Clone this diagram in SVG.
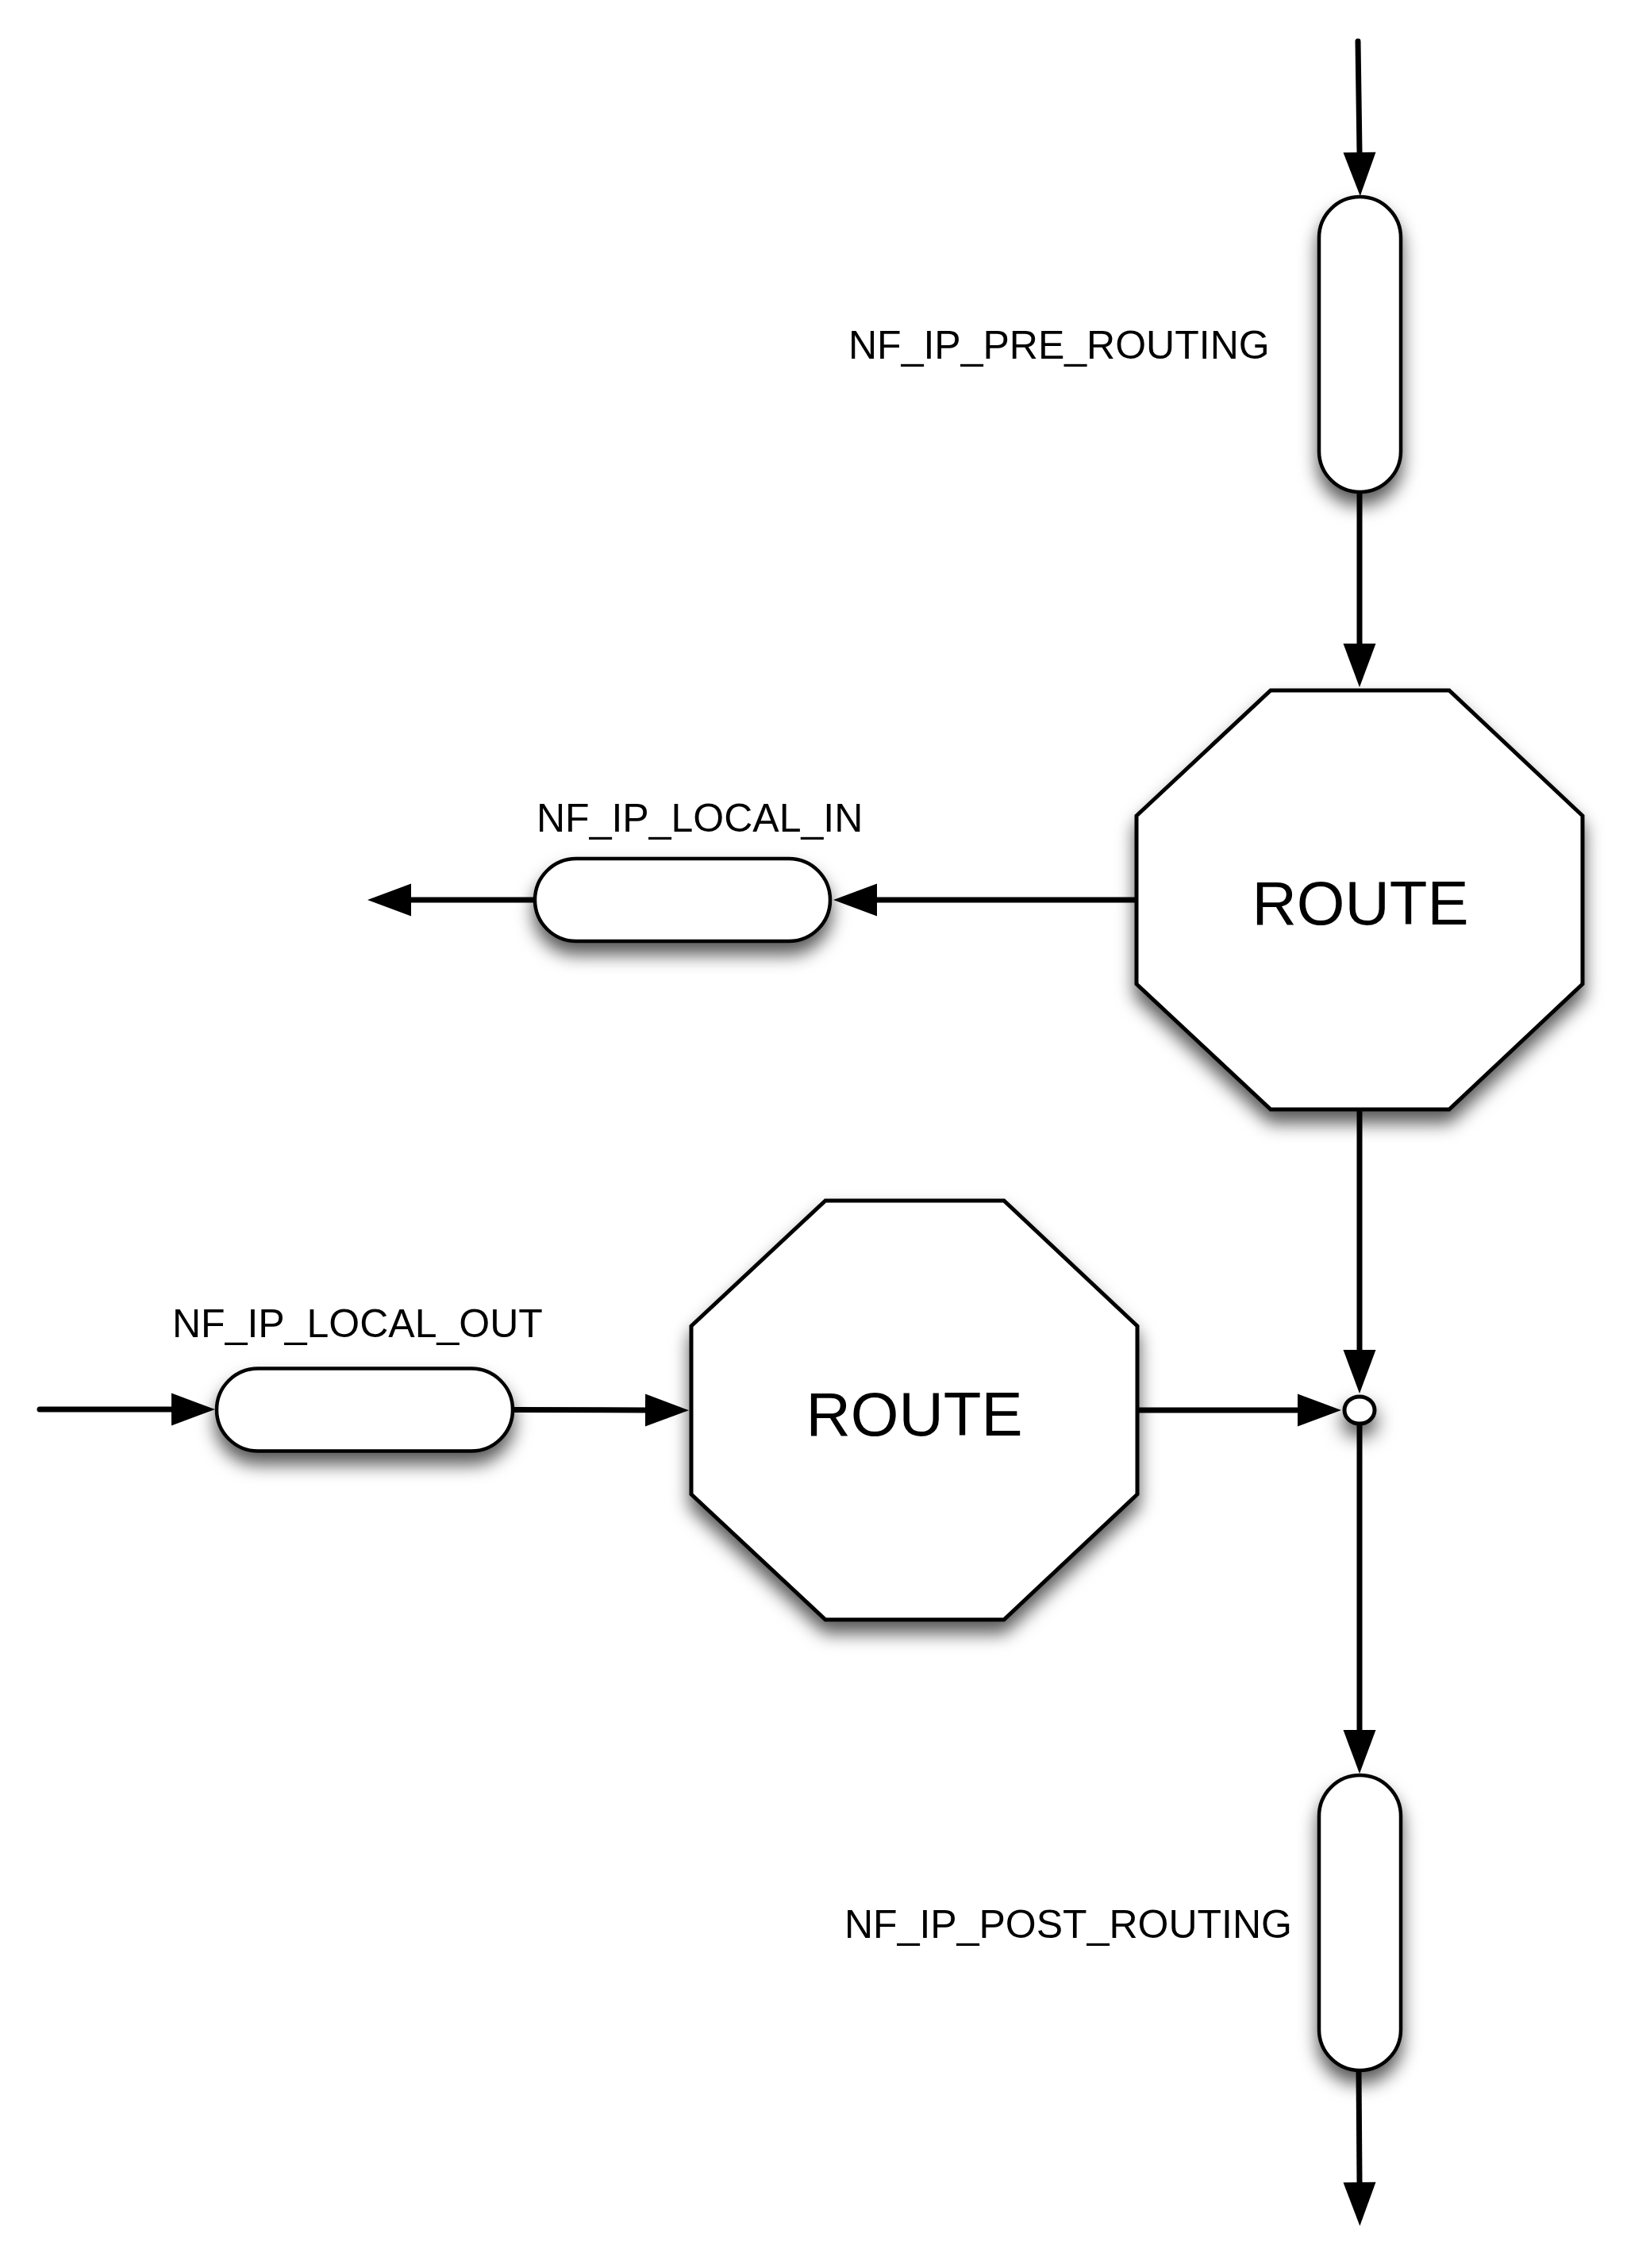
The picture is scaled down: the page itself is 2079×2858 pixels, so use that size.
<svg xmlns="http://www.w3.org/2000/svg" width="2079" height="2858" viewBox="0 0 2079 2858">
<style>
.shape{fill:#fff;stroke:#000;stroke-width:5;filter:url(#shadow)}
.cap{fill:#fff;stroke:#000;stroke-width:4.5;filter:url(#shadow)}
.dot{fill:#fff;stroke:#000;stroke-width:5;filter:url(#shadowSmall)}
.conn{fill:none;stroke:#000;stroke-width:7;marker-end:url(#arrow)}
.lbl{font-family:"Liberation Sans",Arial,sans-serif;font-size:50px;fill:#000}
.big{font-family:"Liberation Sans",Arial,sans-serif;font-size:78px;fill:#000;text-anchor:middle}
</style>
<defs>
<filter id="shadow" x="-30%" y="-30%" width="160%" height="170%">
<feDropShadow dx="0" dy="15" stdDeviation="11" flood-color="#000" flood-opacity="0.65"/>
</filter>
<filter id="shadowSmall" x="-200%" y="-200%" width="500%" height="500%">
<feDropShadow dx="0" dy="14" stdDeviation="12" flood-color="#000" flood-opacity="0.7"/>
</filter>
<marker id="arrow" markerUnits="userSpaceOnUse" markerWidth="56" markerHeight="42" refX="0" refY="20.5" orient="auto" viewBox="0 0 56 41" overflow="visible">
<path d="M0,0 L55,20.5 L0,41 Z" fill="#000"/>
</marker>
</defs>
<rect width="2079" height="2858" fill="#fff"/>
<g id="connectors">
<line class="conn" x1="1711" y1="52" x2="1713" y2="192" stroke-linecap="round"/>
<line class="conn" x1="1713" y1="620" x2="1713" y2="811"/>
<line class="conn" x1="1432" y1="1134" x2="1105" y2="1134"/>
<line class="conn" x1="674" y1="1134" x2="518" y2="1134"/>
<line class="conn" x1="1713" y1="1398" x2="1713" y2="1701"/>
<line class="conn" x1="50" y1="1776" x2="216" y2="1776" stroke-linecap="round"/>
<line class="conn" x1="646" y1="1776.5" x2="813" y2="1777"/>
<line class="conn" x1="1433" y1="1777" x2="1635" y2="1777"/>
<line class="conn" x1="1713" y1="1794" x2="1713" y2="2180"/>
<line class="conn" x1="1712" y1="2609" x2="1713" y2="2750"/>
</g>
<g id="pre_routing">
<rect class="cap" x="1662" y="248" width="103" height="372" rx="51.5" ry="51.5"/>
<text class="lbl" x="1069" y="452">NF_IP_PRE_ROUTING</text>
</g>
<g id="route1">
<polygon class="shape" points="1601,870 1826,870 1994,1028 1994,1240 1826,1398 1601,1398 1432,1240 1432,1028"/>
<text class="big" x="1714" y="1165">ROUTE</text>
</g>
<g id="local_in">
<rect class="cap" x="674" y="1082" width="372" height="104" rx="52" ry="52"/>
<text class="lbl" x="676" y="1048">NF_IP_LOCAL_IN</text>
</g>
<g id="route2">
<polygon class="shape" points="1040,1513 1265,1513 1433,1671 1433,1883 1265,2041 1040,2041 871,1883 871,1671"/>
<text class="big" x="1152" y="1809">ROUTE</text>
</g>
<g id="local_out">
<rect class="cap" x="273" y="1724.5" width="373" height="104" rx="52" ry="52"/>
<text class="lbl" x="217" y="1685">NF_IP_LOCAL_OUT</text>
</g>
<g id="junction">
<ellipse class="dot" cx="1713" cy="1777" rx="19" ry="17"/>
</g>
<g id="post_routing">
<rect class="cap" x="1662" y="2237" width="103" height="372" rx="51.5" ry="51.5"/>
<text class="lbl" x="1064" y="2442">NF_IP_POST_ROUTING</text>
</g>
</svg>
